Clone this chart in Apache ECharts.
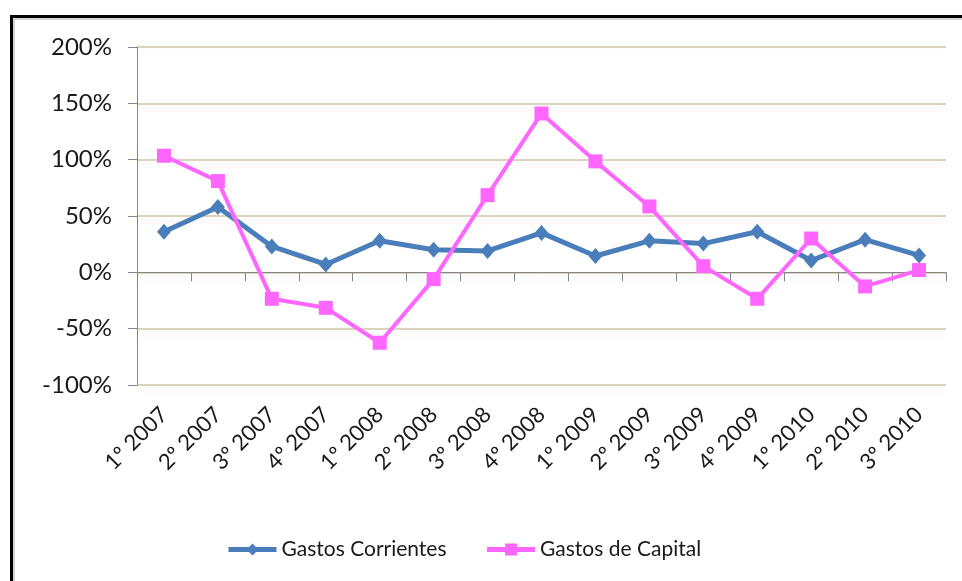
<!DOCTYPE html>
<html><head><meta charset="utf-8">
<script src="https://cdn.jsdelivr.net/npm/echarts@6/dist/echarts.min.js"></script>
<style>html,body{margin:0;padding:0;background:#fff}#c{width:962px;height:581px}</style>
</head><body><div id="c"></div>
<script>
const categories = ['1º 2007','2º 2007','3º 2007','4º 2007','1º 2008','2º 2008','3º 2008','4º 2008','1º 2009','2º 2009','3º 2009','4º 2009','1º 2010','2º 2010','3º 2010'];
const gastosCorrientes = [36, 58, 23, 7, 28, 20, 19, 35, 14.5, 28, 25.5, 36, 10.5, 29, 15];
const gastosCapital = [103.5, 81, -23.5, -31.5, -62.5, -6, 68.5, 141, 98.5, 58.5, 5.5, -23.5, 30, -12.5, 2];
const seriesNames = ['Gastos Corrientes', 'Gastos de Capital'];
const yTicks = {min: -100, max: 200, step: 50};

const FONT = 'Lato';
const chart = echarts.init(document.getElementById('c'), null, {renderer: 'canvas'});
chart.setOption({
  animation: false,
  backgroundColor: '#fff',
  graphic: [
    {type: 'rect', shape: {x: 11.5, y: 16.5, width: 1000, height: 700}, style: {fill: 'none', stroke: '#000', lineWidth: 3}, z: 100},
    {type: 'rect', shape: {x: 14, y: 19, width: 1000, height: 700}, style: {fill: 'none', stroke: '#a8a8a8', lineWidth: 1}, z: 100}
  ],
  grid: [
    {left: 137, right: 16, top: 47, bottom: 196, outerBoundsMode: 'none'},
    {left: 137, right: 16, top: 47, bottom: 182, outerBoundsMode: 'none'}
  ],
  legend: {
    bottom: 16, left: 221,
    itemWidth: 48, itemHeight: 15, itemGap: 38,
    lineStyle: {width: 5},
    textStyle: {fontFamily: FONT, fontSize: 21, color: '#1a1a1a'},
    data: seriesNames
  },
  xAxis: [
    {type: 'category', gridIndex: 0, data: categories, boundaryGap: true,
     axisLine: {onZero: true, lineStyle: {color: '#868686', width: 1}},
     axisTick: {show: true, length: 9, lineStyle: {color: '#868686'}},
     axisLabel: {show: false}, splitLine: {show: false}},
    {type: 'category', gridIndex: 1, data: categories, boundaryGap: true, position: 'bottom',
     axisLine: {show: false, onZero: false}, axisTick: {show: false},
     axisLabel: {show: true, rotate: 45, margin: 12, fontFamily: FONT, fontSize: 22, color: '#1a1a1a', interval: 0},
     splitLine: {show: false}}
  ],
  yAxis: [
    {type: 'value', gridIndex: 0, min: yTicks.min, max: yTicks.max, interval: yTicks.step,
     axisLine: {show: true, lineStyle: {color: '#868686'}},
     axisTick: {show: true, length: 9, lineStyle: {color: '#868686'}},
     axisLabel: {formatter: '{value}%', margin: 25, fontFamily: FONT, fontSize: 24, color: '#1a1a1a'},
     splitLine: {show: true, lineStyle: {color: '#DAD4BF', width: 2, shadowColor: 'rgba(0,0,0,0.06)', shadowBlur: 6, shadowOffsetY: 5}}},
    {type: 'value', gridIndex: 1, min: 0, max: 1, show: false}
  ],
  series: [
    {name: seriesNames[0], type: 'line', data: gastosCorrientes, xAxisIndex: 0, yAxisIndex: 0,
     symbol: 'diamond', symbolSize: [14, 16],
     lineStyle: {color: '#4A7EBB', width: 5}, itemStyle: {color: '#4A7EBB'}, z: 3},
    {name: seriesNames[1], type: 'line', data: gastosCapital, xAxisIndex: 0, yAxisIndex: 0,
     symbol: 'rect', symbolSize: 14,
     lineStyle: {color: '#FF66FF', width: 4}, itemStyle: {color: '#FF66FF'}, z: 4}
  ]
});
</script></body></html>
